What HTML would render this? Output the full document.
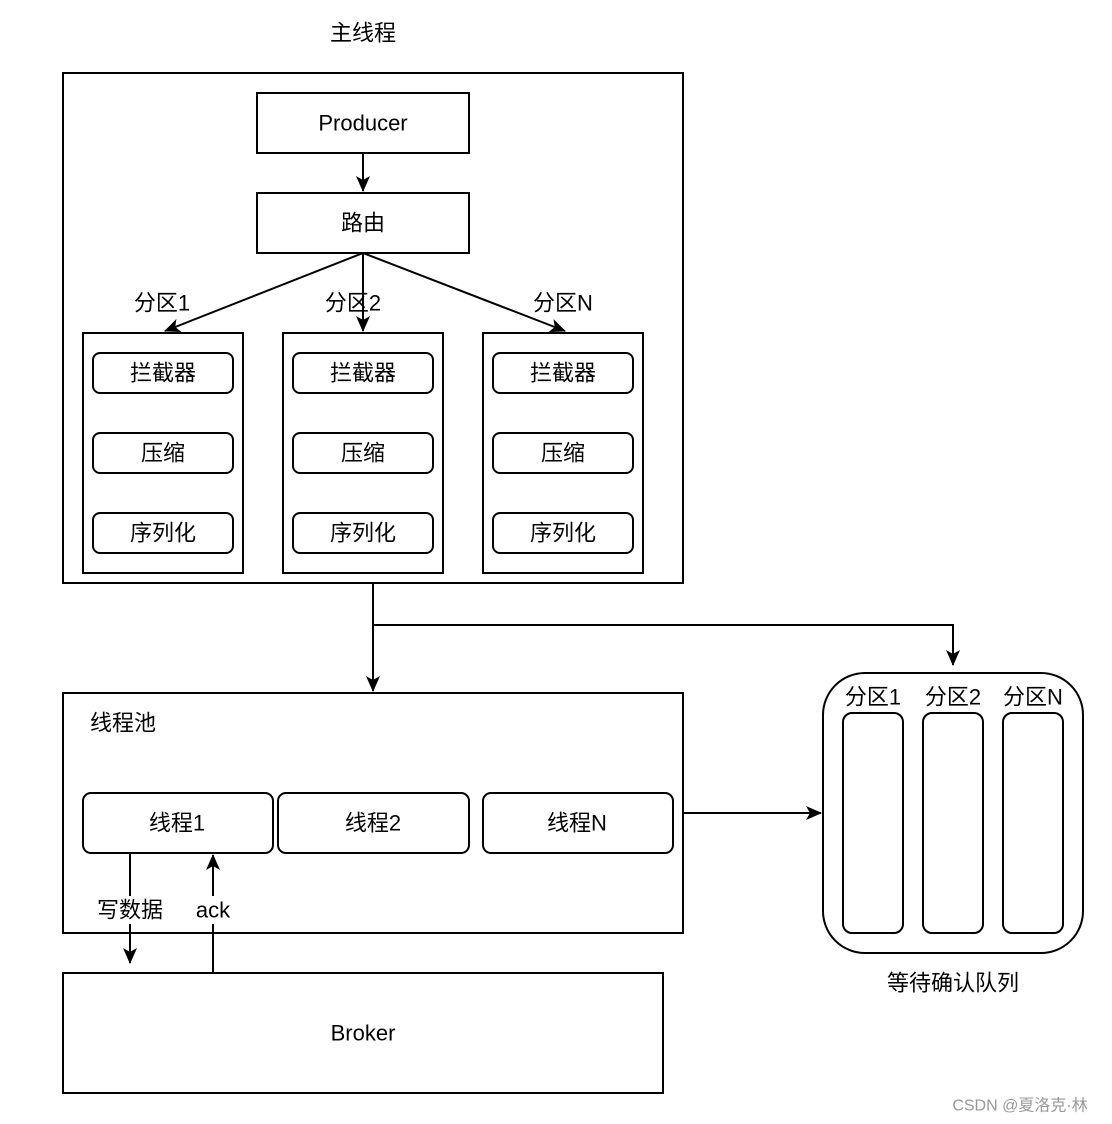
<!DOCTYPE html>
<html><head><meta charset="utf-8"><style>
html,body{margin:0;padding:0;background:#fff;}
svg{display:block;}
text{font-family:"Liberation Sans","Noto Sans CJK SC",sans-serif;font-size:22px;fill:#000;text-anchor:middle;dominant-baseline:central;}
</style></head><body>
<svg width="1112" height="1124" viewBox="0 0 1112 1124" xmlns="http://www.w3.org/2000/svg">
<defs>
<marker id="b" markerWidth="16" markerHeight="16" refX="15" refY="8" orient="auto" markerUnits="userSpaceOnUse"><path d="M0,1 L16,8 L0,15 L4,8 Z" fill="#000"/></marker></defs>
<g fill="none" stroke="#000" stroke-width="2">
<rect x="63" y="73" width="620" height="510"/>
<rect x="257" y="93" width="212" height="60"/>
<rect x="257" y="193" width="212" height="60"/>
<rect x="83" y="333" width="160" height="240"/>
<rect x="283" y="333" width="160" height="240"/>
<rect x="483" y="333" width="160" height="240"/>
<rect x="93" y="353" width="140" height="40" rx="7"/><rect x="93" y="433" width="140" height="40" rx="7"/><rect x="93" y="513" width="140" height="40" rx="7"/>
<rect x="293" y="353" width="140" height="40" rx="7"/><rect x="293" y="433" width="140" height="40" rx="7"/><rect x="293" y="513" width="140" height="40" rx="7"/>
<rect x="493" y="353" width="140" height="40" rx="7"/><rect x="493" y="433" width="140" height="40" rx="7"/><rect x="493" y="513" width="140" height="40" rx="7"/>
<rect x="63" y="693" width="620" height="240"/>
<rect x="83" y="793" width="190" height="60" rx="8"/>
<rect x="278" y="793" width="191" height="60" rx="8"/>
<rect x="483" y="793" width="190" height="60" rx="8"/>
<rect x="823" y="673" width="260" height="280" rx="42"/>
<rect x="843" y="713" width="60" height="220" rx="9"/>
<rect x="923" y="713" width="60" height="220" rx="9"/>
<rect x="1003" y="713" width="60" height="220" rx="9"/>
<rect x="63" y="973" width="600" height="120"/>
</g>
<g stroke="#000" stroke-width="2" fill="none">
<line x1="363" y1="153" x2="363" y2="191" marker-end="url(#b)"/>
<line x1="363" y1="253" x2="165" y2="331" marker-end="url(#b)"/>
<line x1="363" y1="253" x2="363" y2="331" marker-end="url(#b)"/>
<line x1="363" y1="253" x2="565" y2="331" marker-end="url(#b)"/>
<line x1="373" y1="583" x2="373" y2="691" marker-end="url(#b)"/>
<polyline points="373,625 953,625 953,665" marker-end="url(#b)"/>
<line x1="683" y1="813" x2="821" y2="813" marker-end="url(#b)"/>
<line x1="130" y1="853" x2="130" y2="963" marker-end="url(#b)"/>
<line x1="213" y1="973" x2="213" y2="855" marker-end="url(#b)"/>
</g>
<rect x="93" y="896" width="74" height="28" fill="#fff"/>
<rect x="193" y="896" width="40" height="28" fill="#fff"/>
<text x="363" y="33">主线程</text>
<text x="363" y="123">Producer</text>
<text x="363" y="223">路由</text>
<text x="162" y="303">分区1</text>
<text x="353" y="303">分区2</text>
<text x="563" y="303">分区N</text>
<text x="163" y="373">拦截器</text><text x="163" y="453">压缩</text><text x="163" y="533">序列化</text>
<text x="363" y="373">拦截器</text><text x="363" y="453">压缩</text><text x="363" y="533">序列化</text>
<text x="563" y="373">拦截器</text><text x="563" y="453">压缩</text><text x="563" y="533">序列化</text>
<text x="123" y="723">线程池</text>
<text x="177" y="823">线程1</text>
<text x="373" y="823">线程2</text>
<text x="577" y="823">线程N</text>
<text x="130" y="910">写数据</text>
<text x="213" y="910">ack</text>
<text x="363" y="1033">Broker</text>
<text x="873" y="697">分区1</text>
<text x="953" y="697">分区2</text>
<text x="1033" y="697">分区N</text>
<text x="953" y="983">等待确认队列</text>
<text x="1020" y="1106" style="font-size:16px;fill:#999">CSDN @夏洛克·林</text>
</svg>
</body></html>
